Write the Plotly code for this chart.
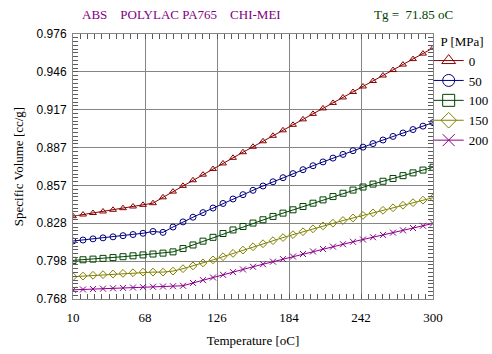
import plotly.graph_objects as go

# Temperatures [oC]
temperature = [10.0, 18.06, 26.11, 34.17, 42.22, 50.28, 58.33, 66.39, 74.44, 82.5,
               90.56, 98.61, 106.67, 114.72, 122.78, 130.83, 138.89, 146.94, 155.0,
               163.06, 171.11, 179.17, 187.22, 195.28, 203.33, 211.39, 219.44, 227.5,
               235.56, 243.61, 251.67, 259.72, 267.78, 275.83, 283.89, 291.94, 300.0]

# Specific volume [cc/g] per pressure
v_p0 = [0.8330, 0.8343, 0.8355, 0.8367, 0.8380, 0.8393, 0.8406, 0.8419, 0.8432, 0.8478,
        0.8523, 0.8568, 0.8612, 0.8656, 0.8700, 0.8744, 0.8788, 0.8832, 0.8875, 0.8918,
        0.8961, 0.9004, 0.9047, 0.9090, 0.9133, 0.9176, 0.9219, 0.9262, 0.9305, 0.9348,
        0.9391, 0.9434, 0.9477, 0.9520, 0.9563, 0.9606, 0.9650]
v_p50 = [0.8135, 0.8143, 0.8152, 0.8160, 0.8168, 0.8177, 0.8186, 0.8196, 0.8210, 0.8203,
         0.8245, 0.8285, 0.8322, 0.8358, 0.8394, 0.8430, 0.8465, 0.8499, 0.8533, 0.8567,
         0.8600, 0.8632, 0.8664, 0.8695, 0.8726, 0.8756, 0.8786, 0.8815, 0.8844, 0.8872,
         0.8900, 0.8928, 0.8956, 0.8983, 0.9010, 0.9037, 0.9064]
v_p100 = [0.7983, 0.7988, 0.7993, 0.7999, 0.8005, 0.8012, 0.8019, 0.8026, 0.8033, 0.8040,
          0.8050, 0.8076, 0.8104, 0.8134, 0.8164, 0.8194, 0.8222, 0.8249, 0.8276, 0.8302,
          0.8328, 0.8354, 0.8380, 0.8406, 0.8432, 0.8458, 0.8484, 0.8510, 0.8535, 0.8559,
          0.8582, 0.8604, 0.8626, 0.8648, 0.8670, 0.8692, 0.8714]
v_p150 = [0.7855, 0.7860, 0.7866, 0.7871, 0.7876, 0.7881, 0.7886, 0.7891, 0.7891, 0.7891,
          0.7899, 0.7918, 0.7940, 0.7963, 0.7987, 0.8012, 0.8038, 0.8064, 0.8090, 0.8114,
          0.8138, 0.8162, 0.8185, 0.8208, 0.8231, 0.8254, 0.8275, 0.8296, 0.8316, 0.8336,
          0.8356, 0.8376, 0.8396, 0.8416, 0.8436, 0.8456, 0.8475]
v_p200 = [0.7752, 0.7755, 0.7758, 0.7761, 0.7764, 0.7767, 0.7770, 0.7773, 0.7776, 0.7778,
          0.7780, 0.7784, 0.7806, 0.7828, 0.7849, 0.7870, 0.7891, 0.7912, 0.7933, 0.7953,
          0.7973, 0.7993, 0.8013, 0.8033, 0.8053, 0.8072, 0.8091, 0.8110, 0.8129, 0.8147,
          0.8165, 0.8183, 0.8201, 0.8219, 0.8237, 0.8255, 0.8273]

series_names = ["0", "50", "100", "150", "200"]
series_values = [v_p0, v_p50, v_p100, v_p150, v_p200]
series_colors = ["#880000", "#000080", "#004400", "#808000", "#880088"]
series_symbols = ["triangle-up-open", "circle-open", "square-open", "diamond-open", "x-thin-open"]

x_ticks = [10, 68, 126, 184, 242, 300]
y_ticks = [0.768, 0.798, 0.828, 0.857, 0.887, 0.917, 0.946, 0.976]
y_ticktext = ["0.768", "0.798", "0.828", "0.857", "0.887", "0.917", "0.946", "0.976"]

title_left = "ABS\u00a0\u00a0\u00a0\u00a0POLYLAC PA765\u00a0\u00a0\u00a0\u00a0CHI-MEI"
title_right = "Tg =\u00a0 71.85 oC"
legend_title = "\u00a0\u00a0\u00a0P [MPa]"

SERIF = "Liberation Serif, Times New Roman, serif"
SANS = "Liberation Sans, Arial, sans-serif"
GRID = "#858585"
TICK = "#5a5a5a"

x_min, x_max = x_ticks[0], x_ticks[-1]
y_min, y_max = y_ticks[0], y_ticks[-1]
x_step = x_ticks[1] - x_ticks[0]
y_step = (y_max - y_min) / (len(y_ticks) - 1)

# evenly spaced major ticks; relabel where rounding differs from the reference labels
y_alias = {}
for k, txt in enumerate(y_ticktext):
    auto = f"{y_min + k * y_step:.3f}"
    if auto != txt:
        y_alias[auto] = txt

fig = go.Figure()
for name, vals, col, sym in zip(series_names, series_values, series_colors, series_symbols):
    fig.add_trace(go.Scatter(
        x=temperature, y=vals, name=name, mode="lines+markers", showlegend=False,
        line=dict(color=col, width=1),
        marker=dict(symbol=sym, size=6, color=col, line=dict(color=col, width=1)),
    ))
# legend entries (larger symbols, as in the reference legend)
for name, col, sym in zip(series_names, series_colors, series_symbols):
    fig.add_trace(go.Scatter(
        x=[None], y=[None], name=name, mode="lines+markers", showlegend=True,
        line=dict(color=col, width=1),
        marker=dict(symbol=sym, size=12, color=col, line=dict(color=col, width=1)),
    ))

fig.update_layout(
    width=492, height=354,
    margin=dict(l=73, r=59, t=34, b=55, autoexpand=False),
    paper_bgcolor="white", plot_bgcolor="white",
    font=dict(family=SERIF, size=12, color="black"),
    showlegend=True,
    legend=dict(
        x=0.988, y=1.02, xanchor="left", yanchor="top",
        title=dict(text=legend_title, font=dict(family=SERIF, size=13)),
        font=dict(family=SERIF, size=13),
        itemwidth=30,
        bgcolor="rgba(0,0,0,0)", tracegroupgap=0,
    ),
    xaxis=dict(
        range=[x_min, x_max], tickmode="linear", tick0=x_min, dtick=x_step,
        ticks="inside", ticklen=5, tickcolor=TICK,
        showline=True, linecolor=GRID, linewidth=1, mirror="allticks",
        showgrid=True, gridcolor=GRID, gridwidth=1, zeroline=False,
        tickfont=dict(family=SERIF, size=13), ticklabelstandoff=6,
        minor=dict(ticks="inside", tick0=x_min, dtick=x_step / 10, ticklen=5,
                   tickcolor=TICK, tickwidth=1),
        title=dict(text="Temperature [oC]", font=dict(family=SERIF, size=13), standoff=12),
    ),
    yaxis=dict(
        range=[y_min, y_max], tickmode="linear", tick0=y_min, dtick=y_step,
        tickformat=".3f", labelalias=y_alias,
        ticks="inside", ticklen=5, tickcolor=TICK,
        showline=True, linecolor=GRID, linewidth=1, mirror="allticks",
        showgrid=True, gridcolor=GRID, gridwidth=1, zeroline=False,
        tickfont=dict(family=SANS, size=12), ticklabelstandoff=3,
        minor=dict(ticks="inside", tick0=y_min, dtick=y_step / 10, ticklen=5,
                   tickcolor=TICK, tickwidth=1),
        title=dict(text="Specific Volume [cc/g]", font=dict(family=SERIF, size=13), standoff=10),
    ),
    annotations=[
        dict(text=title_left, xref="paper", yref="paper", x=0.02, y=1.0, yshift=20,
             xanchor="left", yanchor="middle", showarrow=False,
             font=dict(family=SERIF, size=13, color="#800080")),
        dict(text=title_right, xref="paper", yref="paper", x=1.0, y=1.0, xshift=22, yshift=20,
             xanchor="right", yanchor="middle", showarrow=False,
             font=dict(family=SERIF, size=13, color="#004400")),
    ],
)

fig.write_html("out.html")
